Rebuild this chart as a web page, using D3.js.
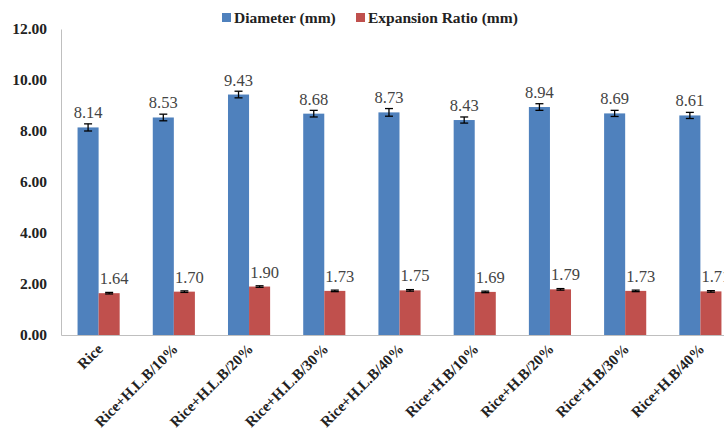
<!DOCTYPE html>
<html><head><meta charset="utf-8">
<script src="https://cdn.jsdelivr.net/npm/d3@7"></script>
<style>body{margin:0;background:#fff}svg{display:block}</style>
</head><body>
<svg id="c" width="724" height="437"></svg>
<script>
const categories = ["Rice","Rice+H.L.B/10%","Rice+H.L.B/20%","Rice+H.L.B/30%","Rice+H.L.B/40%","Rice+H.B/10%","Rice+H.B/20%","Rice+H.B/30%","Rice+H.B/40%"];
const diameter = [8.14,8.53,9.43,8.68,8.73,8.43,8.94,8.69,8.61];
const diameterErr = [0.14,0.13,0.13,0.13,0.15,0.12,0.13,0.12,0.12];
const expansion = [1.64,1.70,1.90,1.73,1.75,1.69,1.79,1.73,1.71];
const expansionErr = [0.03,0.03,0.03,0.03,0.03,0.03,0.03,0.03,0.03];
const seriesNames = ["Diameter (mm)","Expansion Ratio (mm)"];
const yTicks = [0,2,4,6,8,10,12];

(function(){
const FONT = '"Liberation Serif","Times New Roman",serif';
const colors = ["#4F81BD","#C0504D"];
const svg = d3.select("#c").style("font-family",FONT);
const mLeft = 61, mRight = 738, mTop = 29, mBottom = 335;
const x = d3.scaleBand().domain(categories).range([mLeft,mRight]).paddingInner(0.44).paddingOuter(0.22);
const x1 = d3.scaleBand().domain([0,1]).range([0,x.bandwidth()]);
const y = d3.scaleLinear().domain([0,12]).range([mBottom,mTop]);

const ya = svg.append("g").attr("transform",`translate(${mLeft},0)`)
  .call(d3.axisLeft(y).tickValues(yTicks).tickSize(0).tickPadding(14).tickFormat(d3.format(".2f")));
ya.attr("font-family",FONT).style("font-family",FONT);
ya.select(".domain").attr("stroke","#bfbfbf");
ya.selectAll("text").style("font-family",FONT).attr("font-weight","bold").attr("font-size",15.5).attr("fill","#222");

const xa = svg.append("g").attr("transform",`translate(0,${mBottom})`)
  .call(d3.axisBottom(x).tickSize(0).tickPadding(0));
xa.attr("font-family",FONT).style("font-family",FONT);
xa.select(".domain").attr("stroke","#bfbfbf");
xa.selectAll("text").style("font-family",FONT)
  .attr("font-weight","bold").attr("font-size",15).attr("fill","#222")
  .attr("text-anchor","end").attr("dy",0).attr("y",0)
  .attr("transform","translate(5,15) rotate(-45)");

const series = [diameter, expansion];
const errs = [diameterErr, expansionErr];
series.forEach((vals,s)=>{
  const g = svg.append("g");
  g.selectAll("rect").data(vals).join("rect")
    .attr("x",(d,i)=>x(categories[i])+x1(s))
    .attr("width",x1.bandwidth())
    .attr("y",d=>y(d)).attr("height",d=>mBottom-y(d))
    .attr("fill",colors[s]);
  vals.forEach((d,i)=>{
    const cx = x(categories[i])+x1(s)+x1.bandwidth()/2;
    const e = errs[s][i];
    g.append("line").attr("x1",cx).attr("x2",cx).attr("y1",y(d+e)).attr("y2",y(d-e)).attr("stroke","#000").attr("stroke-width",1.3);
    [d+e,d-e].forEach(v=>g.append("line").attr("x1",cx-4).attr("x2",cx+4).attr("y1",y(v)).attr("y2",y(v)).attr("stroke","#000").attr("stroke-width",1.3));
  });
  g.selectAll("text").data(vals).join("text")
    .attr("x",(d,i)=>x(categories[i])+x1(s)+x1.bandwidth()/2 + (s===1?5:0))
    .attr("y",d=>y(d)-9)
    .attr("text-anchor","middle")
    .style("font-family",FONT).attr("font-size",16.5).attr("fill","#444")
    .text(d=>d.toFixed(2));
});

const lg = svg.append("g");
const lx = [222,356];
seriesNames.forEach((n,i)=>{
  lg.append("rect").attr("x",lx[i]).attr("y",13).attr("width",9).attr("height",9).attr("fill",colors[i]);
  lg.append("text").attr("x",lx[i]+12).attr("y",23).style("font-family",FONT).attr("font-weight","bold").attr("font-size",15.5).attr("fill","#222").text(n);
});
})();
</script>
</body></html>
